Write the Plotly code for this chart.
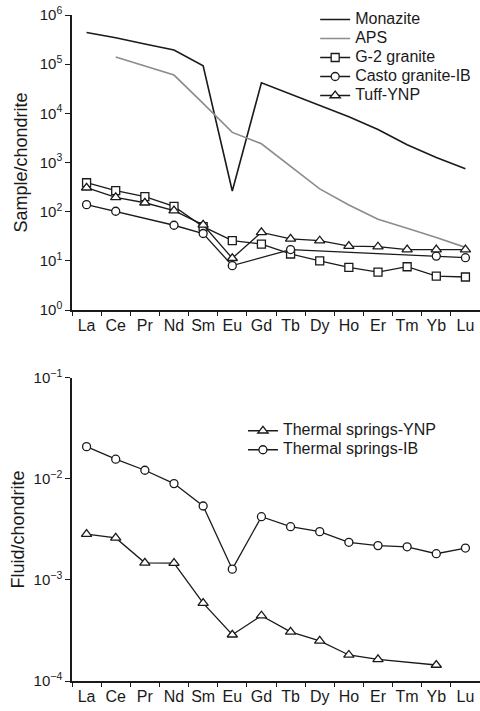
import plotly.graph_objects as go

elements = ["La", "Ce", "Pr", "Nd", "Sm", "Eu", "Gd", "Tb", "Dy", "Ho", "Er", "Tm", "Yb", "Lu"]

# Top panel: sample/chondrite
monazite = [4.4e5, 3.45e5, 2.57e5, 1.94e5, 9.3e4, 263, 4.2e4, 2.44e4, 1.41e4, 8.5e3, 4.7e3, 2.3e3, 1.27e3, 748]
aps = [None, 1.4e5, 9.2e4, 6.0e4, 1.6e4, 4.1e3, 2.4e3, 820, 290, 137, 70, 46, 30, 18.8]
g2_granite = [388, 267, 202, 128, 49.5, 25.7, 22, 13.8, 10, 7.4, 5.9, 7.6, 4.9, 4.7]
casto_granite = [139, 102, None, 53, 36, 8.0, None, 17, None, None, None, None, 12.5, 11.6]
tuff_ynp = [307, 196, 152, 105, 54, 11.3, 38, 28, 25.7, 20, 19.4, 17, 17, 17]

# Bottom panel: fluid/chondrite
springs_ynp = [0.00285, 0.00261, 0.00148, 0.00147, 0.00059, 0.000287, 0.000443, 0.000307, 0.00025, 0.000181, 0.000164, None, 0.000144, None]
springs_ib = [0.0209, 0.0157, 0.0122, 0.0090, 0.0054, 0.00128, 0.00423, 0.00337, 0.00301, 0.00236, 0.00219, 0.00213, 0.00182, 0.00207]

top_tickvals = [1, 10, 100, 1e3, 1e4, 1e5, 1e6]
top_ticktext = ["10<sup>0</sup>", "10<sup>1</sup>", "10<sup>2</sup>", "10<sup>3</sup>",
                "10<sup>4</sup>", "10<sup>5</sup>", "10<sup>6</sup>"]
bot_tickvals = [1e-4, 1e-3, 1e-2, 1e-1]
bot_ticktext = ["10<sup>−4</sup>", "10<sup>−3</sup>", "10<sup>−2</sup>", "10<sup>−1</sup>"]

FONT = "Liberation Sans, Arial, sans-serif"
BLACK = "#1a1a1a"
GRAY = "#8c8c8c"


def lname(s, size=16):
    return f'<span style="font-size:{size}px">{s}</span>'


fig = go.Figure()


def mk(symbol, size=8):
    return dict(symbol=symbol, size=size, color="white", line=dict(color=BLACK, width=1.3))


fig.add_trace(go.Scatter(x=elements, y=monazite, name=lname("Monazite"), mode="lines",
                         line=dict(color=BLACK, width=1.6), xaxis="x", yaxis="y", legend="legend"))
fig.add_trace(go.Scatter(x=elements, y=aps, name=lname("APS"), mode="lines",
                         line=dict(color=GRAY, width=1.6), xaxis="x", yaxis="y", legend="legend"))
fig.add_trace(go.Scatter(x=elements, y=g2_granite, name=lname("G-2 granite"), mode="lines+markers",
                         line=dict(color=BLACK, width=1.3), marker=mk("square", 8), connectgaps=True,
                         xaxis="x", yaxis="y", legend="legend"))
fig.add_trace(go.Scatter(x=elements, y=casto_granite, name=lname("Casto granite-IB"), mode="lines+markers",
                         line=dict(color=BLACK, width=1.3), marker=mk("circle", 8), connectgaps=True,
                         xaxis="x", yaxis="y", legend="legend"))
fig.add_trace(go.Scatter(x=elements, y=tuff_ynp, name=lname("Tuff-YNP"), mode="lines+markers",
                         line=dict(color=BLACK, width=1.3), marker=mk("triangle-up", 9), connectgaps=True,
                         xaxis="x", yaxis="y", legend="legend"))

fig.add_trace(go.Scatter(x=elements, y=springs_ynp, name=lname("Thermal springs-YNP"), mode="lines+markers",
                         line=dict(color=BLACK, width=1.3), marker=mk("triangle-up", 9), connectgaps=True,
                         xaxis="x2", yaxis="y2", legend="legend2"))
fig.add_trace(go.Scatter(x=elements, y=springs_ib, name=lname("Thermal springs-IB"), mode="lines+markers",
                         line=dict(color=BLACK, width=1.3), marker=mk("circle", 8), connectgaps=True,
                         xaxis="x2", yaxis="y2", legend="legend2"))

xaxis_common = dict(
    type="category", categoryorder="array", categoryarray=elements,
    range=[-0.5, 13.5], tickson="boundaries", tickangle=0, automargin=False,
    showline=True, linecolor=BLACK, linewidth=1.5,
    ticks="outside", ticklen=4, tickwidth=1.3, tickcolor=BLACK,
    showgrid=False, zeroline=False, ticklabeloverflow="allow",
    tickfont=dict(family=FONT, size=16, color=BLACK),
)
yaxis_common = dict(
    type="log", showline=True, linecolor=BLACK, linewidth=1.5, automargin=False,
    ticks="outside", ticklen=5, tickwidth=1.3, tickcolor=BLACK,
    showgrid=False, zeroline=False, ticklabeloverflow="allow",
    tickfont=dict(family=FONT, size=15, color=BLACK),
    title_font=dict(family=FONT, size=18, color=BLACK),
)

fig.update_layout(
    width=480, height=711,
    margin=dict(l=72, r=0, t=15, b=30, autoexpand=False),
    paper_bgcolor="white", plot_bgcolor="white",
    font=dict(family=FONT, color=BLACK),
    xaxis=dict(domain=[0, 1], anchor="y", **xaxis_common),
    yaxis=dict(domain=[0.557, 1], anchor="x", range=[0, 6],
               tickvals=top_tickvals, ticktext=top_ticktext,
               title_text="Sample/chondrite", title_standoff=7, **yaxis_common),
    xaxis2=dict(domain=[0, 1], anchor="y2", **xaxis_common),
    yaxis2=dict(domain=[0, 0.455], anchor="x2", range=[-4, -1],
                tickvals=bot_tickvals, ticktext=bot_ticktext,
                title_text="Fluid/chondrite", title_standoff=4, **yaxis_common),
    legend=dict(x=0.596, y=1.015, xanchor="left", yanchor="top",
                font=dict(family=FONT, size=12, color=BLACK),
                bgcolor="rgba(0,0,0,0)", tracegroupgap=0),
    legend2=dict(x=0.419, y=0.3975, xanchor="left", yanchor="top",
                 font=dict(family=FONT, size=12, color=BLACK),
                 bgcolor="rgba(0,0,0,0)", tracegroupgap=0),
    showlegend=True,
)

# remove the browser's default 8px body margin so the figure fills the window
fig.write_html("out.html", config={"displayModeBar": False},
               post_script="document.body.style.margin='0';")
